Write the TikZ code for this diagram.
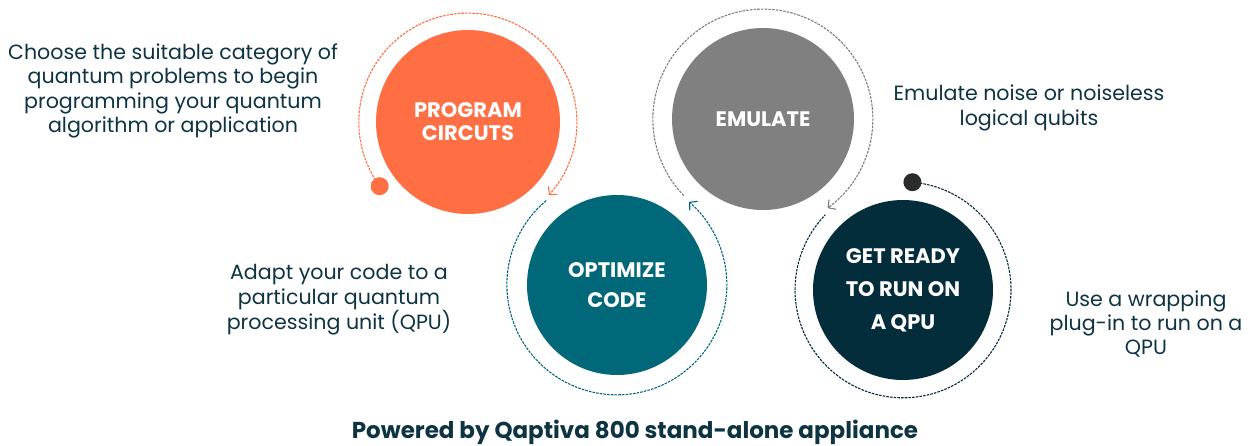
\documentclass[tikz,border=0pt]{standalone}
\usepackage{fontspec}
\setmainfont{Poppins}
\usetikzlibrary{arrows.meta}

\definecolor{orangeC}{HTML}{FF6F43}
\definecolor{grayC}{HTML}{808080}
\definecolor{tealC}{HTML}{006878}
\definecolor{navyC}{HTML}{032D3B}
\definecolor{inkC}{HTML}{0E3442}
\definecolor{dotC}{HTML}{2B2B2B}

\tikzset{
  disc/.style={circle, inner sep=0pt, minimum size=#1, text=white,
    font=\bfseries\fontsize{21}{23}\selectfont, align=center},
  ringpath/.style={circle, inner sep=0pt, minimum size=#1},
  ring/.style={line width=1.1pt, dash pattern=on 2.6pt off 1.1pt},
  tip/.style={-{Straight Barb[length=5.5pt,width=12pt,line width=1.1pt]}},
  blurb/.style={text=inkC, align=center, font=\fontsize{20.6}{24.4}\selectfont},
  enddot/.style={circle, inner sep=0pt, minimum size=18pt}
}

\begin{document}
\begin{tikzpicture}[x=1pt,y=1pt]
  \useasboundingbox (0,0) rectangle (1253,445);

  % step discs
  \node[disc=184pt, fill=orangeC] (prog) at (468,323) {PROGRAM\\CIRCUTS};
  \node[disc=182pt, fill=grayC]   (emu)  at (763,326) {EMULATE};
  \node[disc=180pt, fill=tealC, font=\bfseries\fontsize{21}{30}\selectfont] (opt) at (617,160) {OPTIMIZE\\CODE};
  \node[disc=180pt, fill=navyC, font=\bfseries\fontsize{21}{33}\selectfont] (qpu) at (903,155) {GET READY\\TO RUN ON\\A QPU};

  % guide circles for the dashed rings
  \node[ringpath=218pt] (rprog) at (prog.center) {};
  \node[ringpath=220pt] (remu)  at (emu.center) {};
  \node[ringpath=220pt] (ropt)  at (opt.center) {};
  \node[ringpath=216pt] (rqpu)  at (qpu.center) {};

  % dashed rings with arrows
  \draw[ring, orangeC, tip] (rprog.216) arc[start angle=216, end angle=-42, radius=109pt];
  \draw[ring, grayC, tip]   (remu.224) arc[start angle=224, end angle=-54, radius=110pt];
  \draw[ring, tealC, tip]   (ropt.130) arc[start angle=130, end angle=409, radius=110pt];
  \draw[ring, navyC]        (rqpu.85) arc[start angle=85, end angle=-224, radius=108pt];

  % start dots
  \node[enddot, fill=orangeC] (dprog) at (rprog.216) {};
  \node[enddot, fill=dotC]    (dqpu)  at (rqpu.85) {};

  % descriptions
  \node[blurb] (t1) at (173,354) {Choose the suitable category of\\quantum problems to begin\\programming your quantum\\algorithm or application};
  \node[blurb] (t2) at (1029,337) {Emulate noise or noiseless\\logical qubits};
  \node[blurb] (t3) at (339,145) {Adapt your code to a\\particular quantum\\processing unit (QPU)};
  \node[blurb] (t4) at (1146,121) {Use a wrapping\\plug-in to run on a\\QPU};

  \node[text=inkC, anchor=base, font=\bfseries\fontsize{23}{26}\selectfont] (title) at (635,7) {Powered by Qaptiva 800 stand-alone appliance};
\end{tikzpicture}
\end{document}
